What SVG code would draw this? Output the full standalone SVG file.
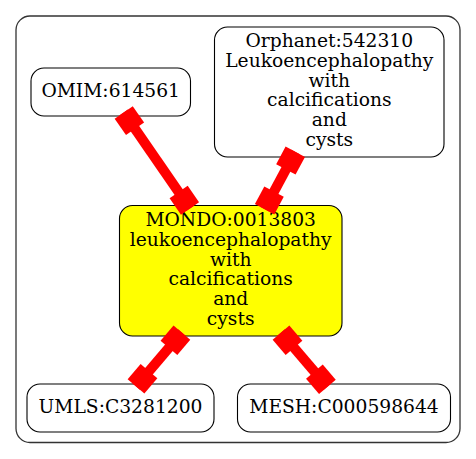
<svg xmlns="http://www.w3.org/2000/svg" width="476" height="459" viewBox="0 0 476 459">
<style>
.node rect{fill:#ffffff;stroke:#000000;stroke-width:1.1}
#mondo rect{fill:#ffff00}
text{font-family:"DejaVu Serif","Liberation Serif",serif;font-size:18.7px;text-anchor:middle;fill:#000}
.edge{stroke:#ff0000;stroke-width:10;fill:none;marker-start:url(#box);marker-end:url(#box)}
</style>
<defs>
<marker id="box" markerUnits="userSpaceOnUse" orient="auto-start-reverse" viewBox="-21 -12 22 24" refX="0" refY="0" markerWidth="22" markerHeight="24">
<rect x="-20" y="-11" width="20" height="22" fill="#ff0000"/>
</marker>
</defs>
<rect x="16" y="16" width="444" height="426.5" rx="14" ry="14" fill="none" stroke="#333" stroke-width="1.3"/>
<g id="omim" class="node"><rect x="31" y="68" width="159.5" height="48" rx="13" ry="13"/><text x="110.7" y="97">OMIM:614561</text></g>
<g id="orphanet" class="node"><rect x="214.5" y="27" width="229.5" height="130" rx="13" ry="13"/>
<text x="329.3" y="47">Orphanet:542310</text><text x="329.3" y="66.8">Leukoencephalopathy</text><text x="329.3" y="86.6">with</text><text x="329.3" y="106.4">calcifications</text><text x="329.3" y="126.2">and</text><text x="329.3" y="146">cysts</text></g>
<g id="mondo" class="node"><rect x="119.5" y="205.5" width="222.5" height="130.5" rx="13" ry="13"/>
<text x="230.7" y="226">MONDO:0013803</text><text x="230.7" y="245.8">leukoencephalopathy</text><text x="230.7" y="265.6">with</text><text x="230.7" y="285.4">calcifications</text><text x="230.7" y="305.2">and</text><text x="230.7" y="325">cysts</text></g>
<g id="umls" class="node"><rect x="27" y="384" width="187" height="48" rx="13" ry="13"/><text x="120.5" y="413">UMLS:C3281200</text></g>
<g id="mesh" class="node"><rect x="237.5" y="384" width="213" height="48" rx="13" ry="13"/><text x="344" y="413">MESH:C000598644</text></g>
<g id="edges">
<line class="edge" x1="123.7" y1="112.4" x2="190" y2="208.5"/>
<line class="edge" x1="295.3" y1="151.8" x2="264.6" y2="209.2"/>
<line class="edge" x1="181.9" y1="332.6" x2="136" y2="386.4"/>
<line class="edge" x1="281" y1="332.6" x2="327.4" y2="386.8"/>
</g>
</svg>
